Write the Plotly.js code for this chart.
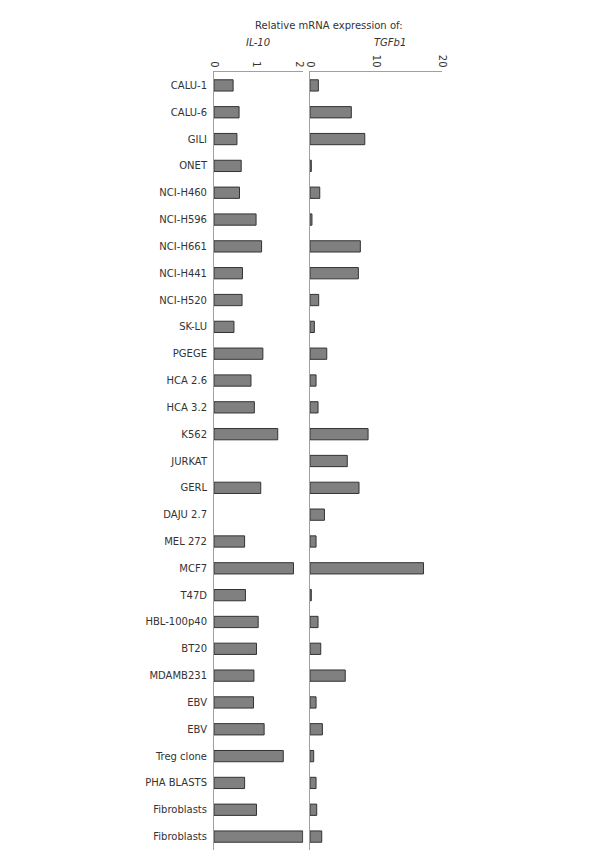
<!DOCTYPE html>
<html>
<head>
<meta charset="utf-8">
<script src="https://cdn.plot.ly/plotly-3.0.1.min.js"></script>
<style>html,body{margin:0;padding:0;background:#fff;}#chart{width:600px;height:867px;}</style>
</head>
<body>
<div id="chart"></div>
<script>
var categories = ["CALU-1","CALU-6","GILI","ONET","NCI-H460","NCI-H596","NCI-H661","NCI-H441","NCI-H520","SK-LU","PGEGE","HCA 2.6","HCA 3.2","K562","JURKAT","GERL","DAJU 2.7","MEL 272","MCF7","T47D","HBL-100p40","BT20","MDAMB231","EBV","EBV","Treg clone","PHA BLASTS","Fibroblasts","Fibroblasts"];
var il10 = [0.45,0.59,0.54,0.64,0.60,0.99,1.12,0.67,0.66,0.47,1.15,0.87,0.95,1.50,null,1.10,null,0.72,1.87,0.74,1.04,1.00,0.94,0.93,1.18,1.63,0.72,1.00,2.09];
var tgfb1 = [1.27,6.26,8.3,0.2,1.48,0.3,7.63,7.33,1.32,0.66,2.54,0.92,1.22,8.8,5.65,7.43,2.19,0.92,17.2,0.2,1.22,1.63,5.34,0.92,1.88,0.56,0.92,1.02,1.78];
var il10Ticks = [0,1,2];
var tgfTicks = [0,10,20];
var panelTitles = ["IL-10","TGFb1"];
var mainTitle = "Relative mRNA expression of:";

var idx = categories.map(function(_, i){ return i; });
var barStyle = {color:'#808080', line:{color:'#333333', width:1}};

var traces = [
  {type:'bar', orientation:'h', x:il10, y:idx, xaxis:'x', yaxis:'y', marker:barStyle, width:0.42, hoverinfo:'x'},
  {type:'bar', orientation:'h', x:tgfb1, y:idx, xaxis:'x2', yaxis:'y2', marker:barStyle, width:0.42, hoverinfo:'x'}
];

var fam = 'DejaVu Sans, Verdana, sans-serif';
var axFont = {family:fam, size:10, color:'#333'};
var layout = {
  width:600, height:867,
  margin:{l:214, r:158, t:72, b:17},
  paper_bgcolor:'#fff', plot_bgcolor:'#fff',
  showlegend:false,
  font:axFont,
  title:{text:mainTitle, font:{family:fam, size:10, color:'#333'}, x:0.548, xanchor:'center', y:0.971, yanchor:'middle', yref:'container'},
  xaxis:{domain:[0,0.3914], range:[0,2.1], side:'top', tickvals:il10Ticks, tickangle:90, showgrid:false, zeroline:false, showline:true, linecolor:'#a0a0a0', linewidth:1, ticks:'', tickfont:axFont},
  xaxis2:{domain:[0.421,1], range:[0,20], side:'top', anchor:'y2', tickvals:tgfTicks, tickangle:90, showgrid:false, zeroline:false, showline:true, linecolor:'#a0a0a0', linewidth:1, ticks:'', tickfont:axFont},
  yaxis:{range:[28.5,-0.5], tickvals:idx, ticktext:categories, showgrid:false, zeroline:false, showline:true, linecolor:'#a0a0a0', linewidth:1, ticks:'', tickfont:axFont, ticklabelstandoff:4},
  yaxis2:{range:[28.5,-0.5], anchor:'x2', showticklabels:false, showgrid:false, zeroline:false, showline:true, linecolor:'#a0a0a0', linewidth:1, ticks:''},
  annotations:[
    {text:'<i>'+panelTitles[0]+'</i>', xref:'paper', yref:'paper', x:0.193, y:1.0373, xanchor:'center', yanchor:'middle', showarrow:false, font:axFont},
    {text:'<i>'+panelTitles[1]+'</i>', xref:'paper', yref:'paper', x:0.772, y:1.0373, xanchor:'center', yanchor:'middle', showarrow:false, font:axFont}
  ]
};

Plotly.newPlot('chart', traces, layout, {staticPlot:true});
</script>
</body>
</html>
